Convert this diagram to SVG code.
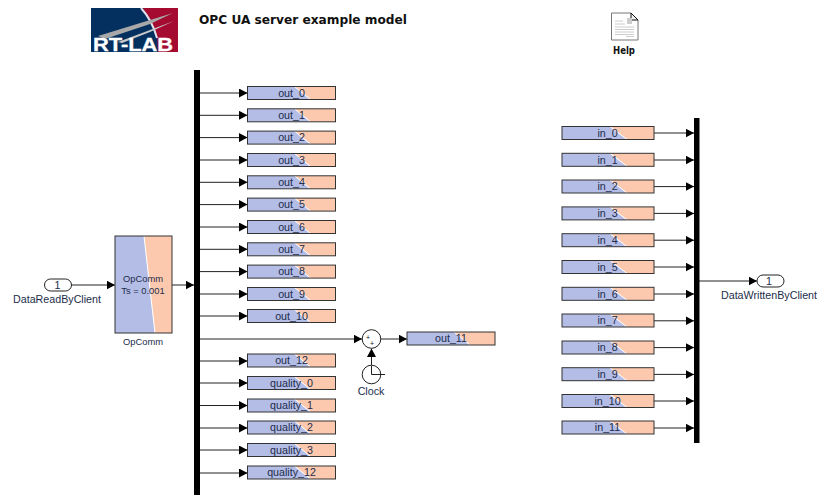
<svg xmlns="http://www.w3.org/2000/svg" width="817" height="495" viewBox="0 0 817 495">
<defs>
<marker id="a" markerUnits="userSpaceOnUse" markerWidth="8.500" markerHeight="9" refX="8.500" refY="4.500" orient="auto"><path d="M0 0L8.500 4.500L0 9Z" fill="#000"/></marker>
<g id="split"><polygon points="0,0 47,0 63,13 0,13" fill="#b4bde6"/><polygon points="47,0 88,0 88,13 63,13" fill="#fdc9ae"/><line x1="47" y1="0" x2="63" y2="13" stroke="#fff" stroke-width="1"/><rect x="0" y="0" width="88" height="13" fill="none" stroke="#333" stroke-width="1"/></g>
<g id="splitin"><polygon points="0,0 48,0 65,13 0,13" fill="#b4bde6"/><polygon points="48,0 92,0 92,13 65,13" fill="#fdc9ae"/><line x1="48" y1="0" x2="65" y2="13" stroke="#fff" stroke-width="1"/><rect x="0" y="0" width="92" height="13" fill="none" stroke="#333" stroke-width="1"/></g>
</defs>
<style>
text{font-family:"Liberation Sans",Arial,sans-serif;fill:#222c4a;font-size:10.700px;text-anchor:middle}
.l{stroke:#222;stroke-width:1;fill:none;marker-end:url(#a)}
.n{fill:#000;stroke:none}
</style>
<rect width="817" height="495" fill="#fff"/>

<g id="logo">
<rect x="91" y="8" width="87" height="44" fill="#04305f"/>
<polygon points="143,8 178,8 178,52 158,52 157,36" fill="#a50a30"/>
<path d="M141 8Q152 20 157 38" stroke="#dfe4ea" stroke-width="2" fill="none"/>
<polygon points="98,36 173,13 150,24 105,39" fill="#a8a8a8"/>
<polygon points="118,42 174,21 150,32 122,43" fill="#c8c8c8"/>
<text x="133" y="51" style="font-size:18.500px;font-weight:bold;fill:#fff;stroke:#fff;stroke-width:.3" textLength="80" lengthAdjust="spacingAndGlyphs">RT-LAB</text>
</g>
<g id="title"><text x="303" y="24" style="font-family:'DejaVu Sans',sans-serif;font-size:12px;font-weight:bold;fill:#111" textLength="208" lengthAdjust="spacingAndGlyphs">OPC UA server example model</text></g>
<g id="help">
<path d="M611.500 13H631L638 20V40H611.500Z" fill="#fff" stroke="#777"/>
<path d="M631 13L638 20H631Z" fill="#eee" stroke="#111"/>
<rect x="627" y="18" width="5" height="6" fill="#ccc"/>
<path d="M615 21H623M615 24H625M615 27H634M615 29.500H634M615 32H634M615 34.500H634M626 36.500H634" stroke="#ccc" fill="none"/>
<text x="624" y="53.500" style="font-family:'DejaVu Sans',sans-serif;font-size:10px;fill:#111;font-weight:bold" textLength="22" lengthAdjust="spacingAndGlyphs">Help</text>
</g>

<g id="connectors">
<path class="l" d="M71 285H115"/>
<path class="l" d="M172 285H194"/>
<path class="l" d="M200 93H247.500"/>
<path class="l" d="M200 115.300H247.500"/>
<path class="l" d="M200 137.600H247.500"/>
<path class="l" d="M200 160H247.500"/>
<path class="l" d="M200 182.300H247.500"/>
<path class="l" d="M200 204.600H247.500"/>
<path class="l" d="M200 227H247.500"/>
<path class="l" d="M200 249.300H247.500"/>
<path class="l" d="M200 271.600H247.500"/>
<path class="l" d="M200 294H247.500"/>
<path class="l" d="M200 316H247.500"/>
<path class="l" d="M200 339H362"/>
<path class="l" d="M381 339H407"/>
<path class="l" d="M371.500 366V348.500"/>
<path class="l" d="M200 361H247.500"/>
<path class="l" d="M200 383H247.500"/>
<path class="l" d="M200 405.500H247.500"/>
<path class="l" d="M200 428H247.500"/>
<path class="l" d="M200 450H247.500"/>
<path class="l" d="M200 473H247.500"/>
<path class="l" d="M654 133H694"/>
<path class="l" d="M654 160H694"/>
<path class="l" d="M654 186.600H694"/>
<path class="l" d="M654 213.400H694"/>
<path class="l" d="M654 240.200H694"/>
<path class="l" d="M654 267H694"/>
<path class="l" d="M654 294H694"/>
<path class="l" d="M654 320.800H694"/>
<path class="l" d="M654 347.600H694"/>
<path class="l" d="M654 374.400H694"/>
<path class="l" d="M654 401H694"/>
<path class="l" d="M654 428H694"/>
<path class="l" d="M699 281H757"/>
</g>

<rect id="busLeft" class="n" x="194" y="70" width="6" height="425"/>
<rect id="busRight" class="n" x="694" y="118" width="5.500" height="325"/>

<g id="inport"><rect x="44.500" y="279" width="27" height="12" rx="6" fill="#fff" stroke="#222"/><text x="57.500" y="289">1</text><text x="57" y="303">DataReadByClient</text></g>
<g id="opcomm">
<polygon points="115,236 144,236 155,333 115,333" fill="#b4bde6"/>
<polygon points="144,236 172,236 172,333 155,333" fill="#fdc9ae"/>
<line x1="144" y1="236" x2="155" y2="333" stroke="#fff"/>
<rect x="115" y="236" width="57" height="97" fill="none" stroke="#333"/>
<text x="143" y="282" style="font-size:9.400px">OpComm</text><text x="143" y="294" style="font-size:9.400px">Ts = 0.001</text>
<text x="143" y="345" style="font-size:9.400px">OpComm</text>
</g>

<g id="out_0"><use href="#split" x="247.500" y="86.500"/><text x="291.500" y="96.500">out_0</text></g>
<g id="out_1"><use href="#split" x="247.500" y="108.800"/><text x="291.500" y="119">out_1</text></g>
<g id="out_2"><use href="#split" x="247.500" y="131.100"/><text x="291.500" y="141">out_2</text></g>
<g id="out_3"><use href="#split" x="247.500" y="153.500"/><text x="291.500" y="163.500">out_3</text></g>
<g id="out_4"><use href="#split" x="247.500" y="175.800"/><text x="291.500" y="186">out_4</text></g>
<g id="out_5"><use href="#split" x="247.500" y="198.100"/><text x="291.500" y="208">out_5</text></g>
<g id="out_6"><use href="#split" x="247.500" y="220.500"/><text x="291.500" y="230.500">out_6</text></g>
<g id="out_7"><use href="#split" x="247.500" y="242.800"/><text x="291.500" y="253">out_7</text></g>
<g id="out_8"><use href="#split" x="247.500" y="265.100"/><text x="291.500" y="275">out_8</text></g>
<g id="out_9"><use href="#split" x="247.500" y="287.500"/><text x="291.500" y="297.500">out_9</text></g>
<g id="out_10"><use href="#split" x="247.500" y="309.500"/><text x="291.500" y="319.500">out_10</text></g>
<g id="out_11"><use href="#split" x="407" y="332"/><text x="451" y="342">out_11</text></g>
<g id="out_12"><use href="#split" x="247.500" y="354"/><text x="291.500" y="364">out_12</text></g>
<g id="quality_0"><use href="#split" x="247.500" y="376.500"/><text x="291.500" y="386.500">quality_0</text></g>
<g id="quality_1"><use href="#split" x="247.500" y="399"/><text x="291.500" y="409">quality_1</text></g>
<g id="quality_2"><use href="#split" x="247.500" y="421"/><text x="291.500" y="431">quality_2</text></g>
<g id="quality_3"><use href="#split" x="247.500" y="443.500"/><text x="291.500" y="453.500">quality_3</text></g>
<g id="quality_12"><use href="#split" x="247.500" y="466"/><text x="291.500" y="476">quality_12</text></g>

<g id="sum"><circle cx="371.500" cy="339" r="9.300" fill="#fff" stroke="#222"/><text x="368" y="340" style="font-size:7px;fill:#111">+</text><text x="372" y="346" style="font-size:7px;fill:#111">+</text></g>
<g id="clock"><circle cx="371.500" cy="374.500" r="9.300" fill="#fff" stroke="#222"/><path d="M371.500 366V374.500H385" stroke="#222" fill="none"/><text x="371" y="395">Clock</text></g>

<g id="in_0"><use href="#splitin" x="562" y="126.500"/><text x="607.500" y="137">in_0</text></g>
<g id="in_1"><use href="#splitin" x="562" y="153.300"/><text x="607.500" y="163.500">in_1</text></g>
<g id="in_2"><use href="#splitin" x="562" y="180"/><text x="607.500" y="190">in_2</text></g>
<g id="in_3"><use href="#splitin" x="562" y="206.900"/><text x="607.500" y="217">in_3</text></g>
<g id="in_4"><use href="#splitin" x="562" y="233.700"/><text x="607.500" y="244">in_4</text></g>
<g id="in_5"><use href="#splitin" x="562" y="260.500"/><text x="607.500" y="270.500">in_5</text></g>
<g id="in_6"><use href="#splitin" x="562" y="287.300"/><text x="607.500" y="297.500">in_6</text></g>
<g id="in_7"><use href="#splitin" x="562" y="314"/><text x="607.500" y="324">in_7</text></g>
<g id="in_8"><use href="#splitin" x="562" y="341"/><text x="607.500" y="351">in_8</text></g>
<g id="in_9"><use href="#splitin" x="562" y="367.700"/><text x="607.500" y="378">in_9</text></g>
<g id="in_10"><use href="#splitin" x="562" y="394.500"/><text x="607.500" y="404.500">in_10</text></g>
<g id="in_11"><use href="#splitin" x="562" y="421"/><text x="607.500" y="431">in_11</text></g>

<g id="outport"><rect x="757" y="275" width="27" height="12" rx="6" fill="#fff" stroke="#222"/><text x="769" y="285">1</text><text x="769" y="299">DataWrittenByClient</text></g>
</svg>
